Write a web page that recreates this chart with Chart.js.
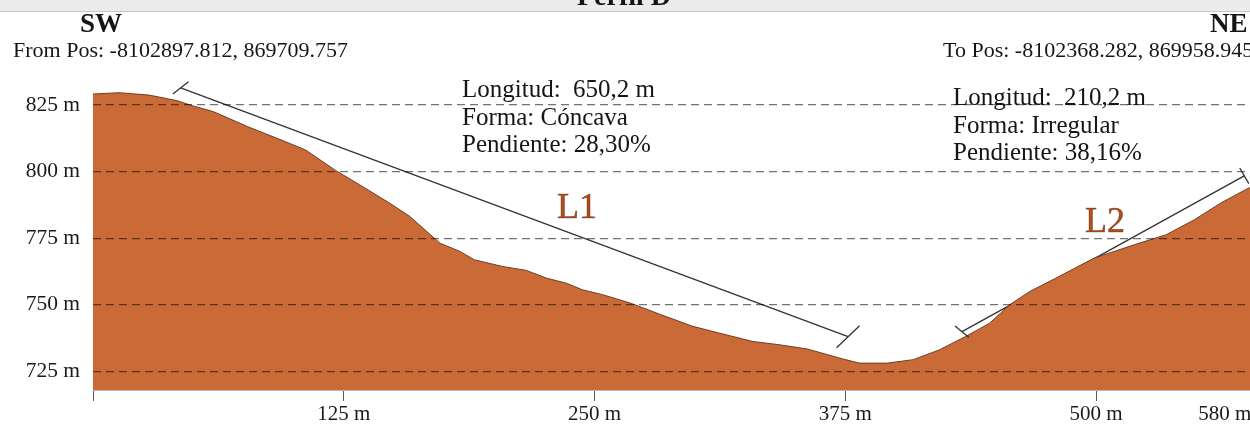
<!DOCTYPE html>
<html>
<head>
<meta charset="utf-8">
<title>Perfil D</title>
<script src="https://cdn.jsdelivr.net/npm/chart.js@4.4.0/dist/chart.umd.min.js"></script>
<style>
	html, body { margin: 0; padding: 0; background: #fff; overflow: hidden; }
	#wrap { width: 1250px; height: 430px; overflow: hidden; }
</style>
</head>
<body>
<div id="wrap"><canvas id="perfil" width="1280" height="430"></canvas></div>
<script>
// distancia (m) / cota (m)
var distancias = [0, 13, 28, 42, 50, 60, 77, 96, 106, 121, 133, 148, 158, 173, 183, 190, 204, 216, 226, 236, 244, 254, 268, 283, 299, 312, 329, 342, 356, 366, 372, 382, 396, 409, 422, 435, 447, 457, 467, 480, 499, 519, 535, 549, 562, 575, 580];
var cotas = [829.1, 829.6, 828.7, 826.6, 824.6, 822.5, 816.9, 811.2, 808.1, 800.4, 795.0, 788.1, 783.1, 773.1, 770.0, 766.9, 764.4, 762.9, 760.0, 758.1, 755.6, 753.8, 750.6, 746.3, 741.9, 739.4, 736.2, 735.0, 733.4, 731.3, 730.0, 728.1, 728.1, 729.4, 733.1, 738.1, 743.1, 750.0, 755.0, 760.0, 767.5, 772.5, 776.3, 781.9, 788.1, 793.4, 795.0];

var ticksX = [0, 125, 250, 375, 500, 580];
var ticksY = [725, 750, 775, 800, 825];

// slope segments L1 / L2
var l1X = [43.7, 376.4], l1Y = [831.4, 738.0];
var l2X = [433.2, 573.9], l2Y = [739.9, 798.4];

var textoL1 = ['Longitud:  650,2 m', 'Forma: Cóncava', 'Pendiente: 28,30%'];
var textoL2 = ['Longitud:  210,2 m', 'Forma: Irregular', 'Pendiente: 38,16%'];
var titulo = 'Perfil D';
var desde = 'From Pos: -8102897.812, 869709.757';
var hasta = 'To Pos: -8102368.282, 869958.945';

var SERIF = '"Liberation Serif", "Times New Roman", serif';

function puntos(xs, ys) {
	return xs.map(function (v, i) { return { x: v, y: ys[i] }; });
}

var PERFIL = {
	init: function ()
	{
		this.initChart();
	},
	marcas: {
		id: 'marcas',
		beforeDraw: function (chart) {
			var ctx = chart.ctx;
			ctx.save();
			ctx.fillStyle = '#ececec';
			ctx.fillRect(0, 0, chart.width, 11);
			ctx.fillStyle = '#c6c6c6';
			ctx.fillRect(0, 11, chart.width, 1);
			ctx.restore();
		},
		afterDraw: function (chart) {
			var ctx = chart.ctx,
				sx = chart.scales.x,
				sy = chart.scales.y;

			ctx.save();
			// small end marks on the slope lines
			var ends = [
				[l1X[0], l1Y[0], 0.78, -0.62, 10],
				[l1X[1], l1Y[1], 0.72, -0.69, 16],
				[l2X[0], l2Y[0], 0.77, 0.64, 9],
				[l2X[1], l2Y[1], 0.5, 0.87, 9]
			];
			ctx.strokeStyle = '#333';
			ctx.lineWidth = 1.3;
			ends.forEach(function (e) {
				var px = sx.getPixelForValue(e[0]),
					py = sy.getPixelForValue(e[1]);
				ctx.beginPath();
				ctx.moveTo(px - e[2] * e[4], py - e[3] * e[4]);
				ctx.lineTo(px + e[2] * e[4], py + e[3] * e[4]);
				ctx.stroke();
			});

			ctx.fillStyle = '#151515';
			ctx.textBaseline = 'alphabetic';
			ctx.textAlign = 'left';
			ctx.font = 'bold 28px ' + SERIF;
			ctx.fillText(titulo, 577, 5);
			ctx.font = 'bold 27px ' + SERIF;
			ctx.fillText('SW', 80, 32);
			ctx.fillText('NE', 1210, 32);
			ctx.font = '22px ' + SERIF;
			ctx.fillText(desde, 13, 57);
			ctx.fillText(hasta, 943, 57);

			ctx.font = '25px ' + SERIF;
			textoL1.forEach(function (t, i) { ctx.fillText(t, 462, 97 + i * 27.5); });
			textoL2.forEach(function (t, i) { ctx.fillText(t, 953, 105 + i * 27.5); });

			ctx.font = '36px ' + SERIF;
			ctx.fillStyle = '#b24c1b';
			ctx.strokeStyle = 'rgba(70,25,5,0.6)';
			ctx.lineWidth = 0.6;
			ctx.fillText('L1', 557, 218);
			ctx.strokeText('L1', 557, 218);
			ctx.fillText('L2', 1085, 232);
			ctx.strokeText('L2', 1085, 232);
			ctx.restore();
		}
	},
	initChart: function()
	{
		var canvas = document.getElementById('perfil');

		new Chart(canvas, {
			type: 'line',
			data: {
				datasets: [
					{
						data: puntos(distancias, cotas),
						fill: 'start',
						backgroundColor: '#c96a37',
						borderColor: '#6e3f27',
						borderWidth: 1,
						pointRadius: 0,
						tension: 0
					},
					{
						data: puntos(l1X, l1Y),
						fill: false,
						borderColor: '#333',
						borderWidth: 1.3,
						pointRadius: 0
					},
					{
						data: puntos(l2X, l2Y),
						fill: false,
						borderColor: '#333',
						borderWidth: 1.3,
						pointRadius: 0
					}
				]
			},
			options: {
				responsive: false,
				animation: false,
				devicePixelRatio: 1,
				events: [],
				layout: { padding: { top: 65, right: 23.5, left: 0, bottom: 0 } },
				plugins: {
					legend: { display: false },
					tooltip: { enabled: false }
				},
				scales: {
					x: {
						type: 'linear',
						min: 0,
						max: 580,
						afterBuildTicks: function (s) {
							s.ticks = ticksX.map(function (v) { return { value: v }; });
						},
						afterFit: function (s) { s.height = 40; },
						grid: { drawOnChartArea: false, drawTicks: true, tickLength: 11, color: '#5a5a5a' },
						border: { color: '#b8b8b8', width: 1 },
						ticks: {
							align: 'inner',
							padding: 1,
							autoSkip: false,
							maxRotation: 0,
							color: '#1a1a1a',
							font: { family: SERIF, size: 21 },
							callback: function (v) {
								if (v === 0) return '';
								// last label sits a little inside the cut edge
								return v === 580 ? v + ' m\u00a0' : v + ' m';
							}
						}
					},
					y: {
						min: 718,
						max: 840,
						afterBuildTicks: function (s) {
							s.ticks = ticksY.map(function (v) { return { value: v }; });
						},
						afterFit: function (s) { s.width = 93; },
						grid: { z: 1, color: 'rgba(0,0,0,0.55)', drawTicks: false, lineWidth: 1.2 },
						border: { display: false, dash: [8, 5] },
						ticks: {
							padding: 13,
							color: '#1a1a1a',
							font: { family: SERIF, size: 21.5 },
							callback: function (v) { return v + ' m'; }
						}
					}
				}
			},
			plugins: [this.marcas]
		});
	}
};

PERFIL.init();
</script>
</body>
</html>
